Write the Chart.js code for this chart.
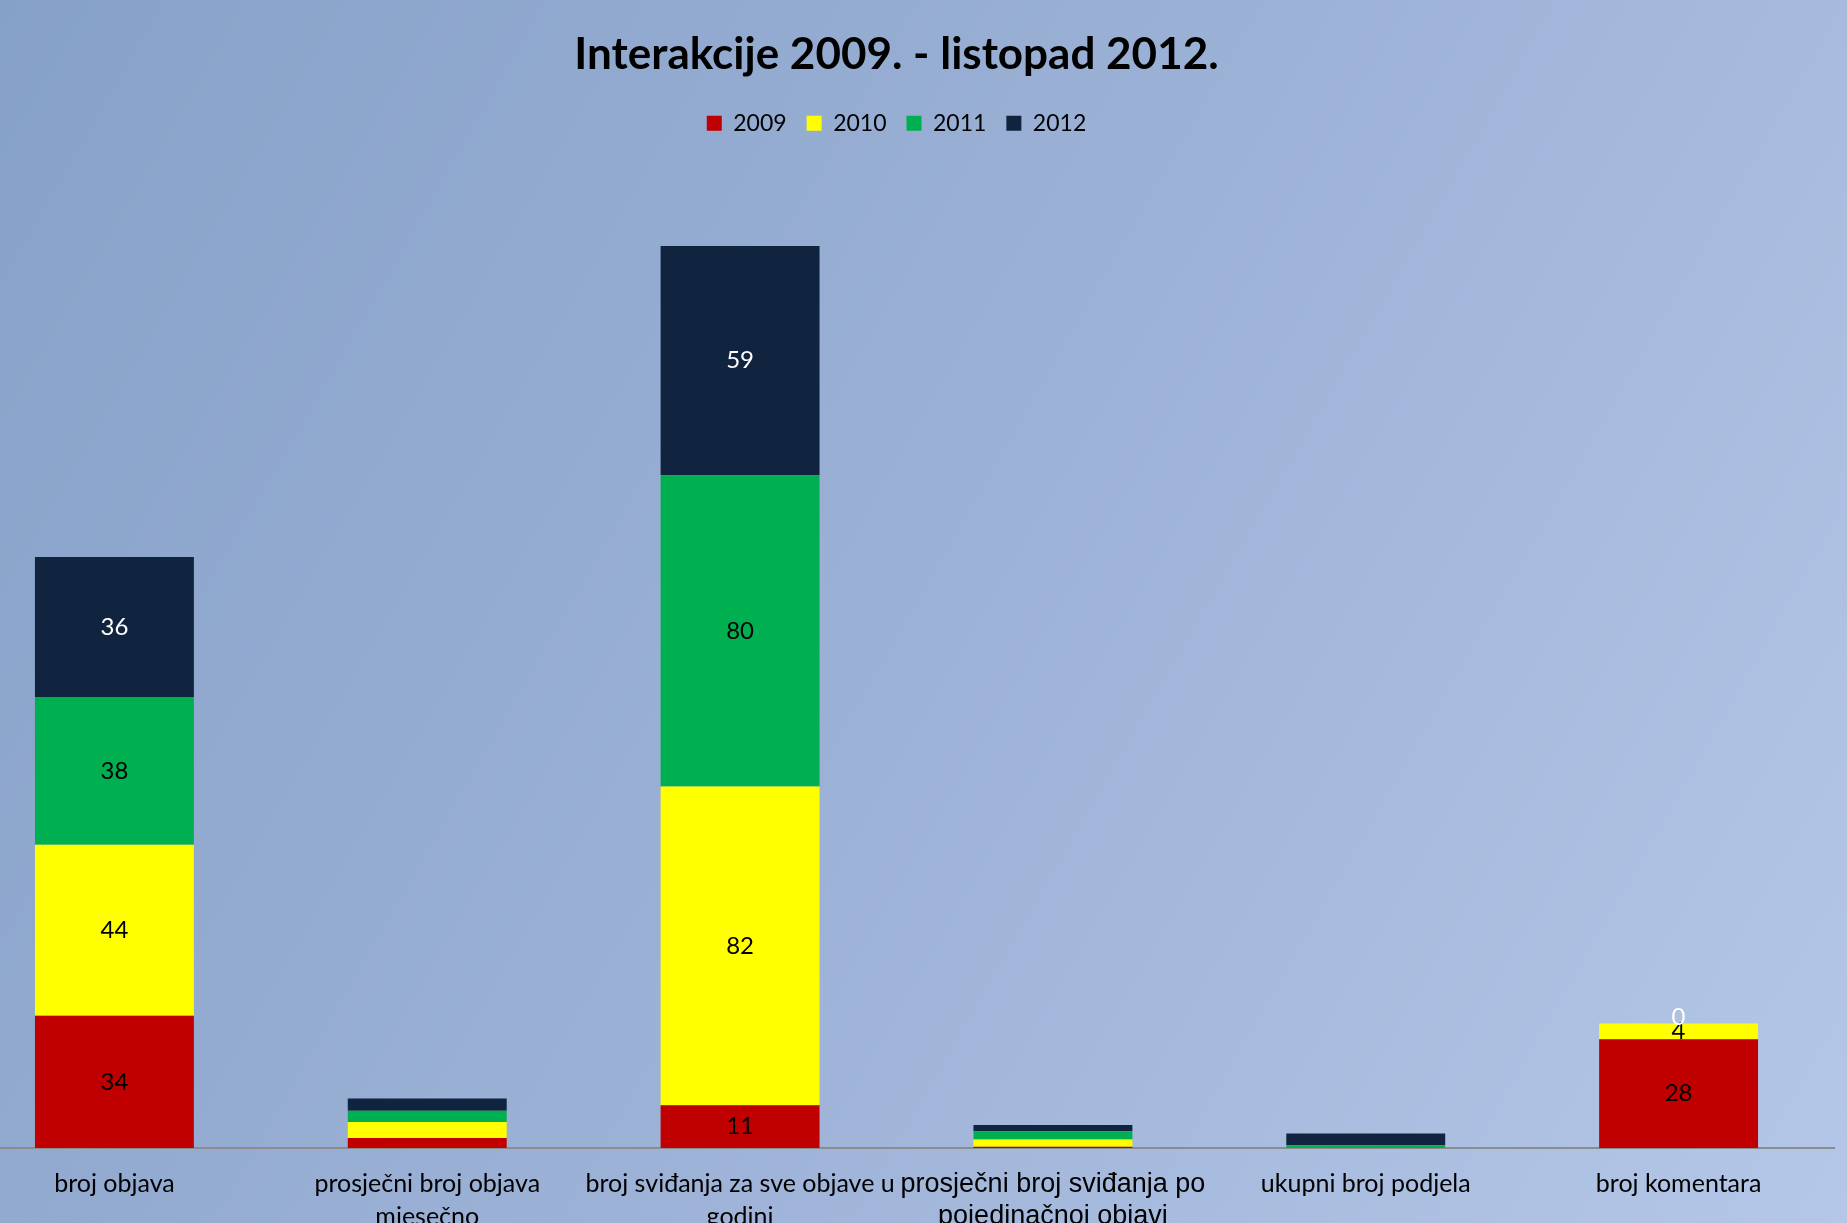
<!DOCTYPE html>
<html lang="hr">
<head>
  <meta charset="UTF-8">
  <title>Interakcije 2009. - listopad 2012.</title>
  <script src="https://cdn.jsdelivr.net/npm/chart.js@4"></script>
  <style>
    html, body {
      margin: 0;
      width: 1847px;
      height: 1223px;
      overflow: hidden;
      background: linear-gradient(120deg, #86a1c8 0%, #9cb1d6 50%, #b4c7e8 100%);
    }
    #wrap {
      position: absolute;
      left: -42px;
      top: 0;
      width: 1877px;
      height: 1253px;
    }
  </style>
</head>
<body>
  <div id="wrap"><canvas id="grafikon"></canvas></div>
  <script>
    // kategorije i vrijednosti po godinama
    const kategorije = [
      "broj objava",
      ["prosječni broj objava", "mjesečno"],
      ["broj sviđanja za sve objave u", "godini"],
      ["prosječni broj sviđanja po", "pojedinačnoj objavi"],
      "ukupni broj podjela",
      "broj komentara"
    ];
    const god2009 = [34, 2.6, 11, 0.3, 0, 28];
    const god2010 = [44, 4.1, 82, 1.9, 0, 4];
    const god2011 = [38, 2.9, 80, 2.1, 0.7, 0];
    const god2012 = [36, 3.1, 59, 1.6, 3.0, 0];
    // koji stupci imaju oznake vrijednosti
    const oznake2009 = [true, false, true, false, false, true];
    const oznake2010 = [true, false, true, false, false, true];
    const oznake2011 = [true, false, true, false, false, false];
    const oznake2012 = [true, false, true, false, false, true];

    const font = "Lato, 'Open Sans', sans-serif";

    // jednostavne oznake u sredini segmenta
    const oznakePlugin = {
      id: "oznake",
      afterDatasetsDraw(chart) {
        const ctx = chart.ctx;
        ctx.save();
        ctx.textAlign = "center";
        ctx.textBaseline = "middle";
        ctx.font = "24px " + font;
        chart.data.datasets.forEach((ds, i) => {
          const meta = chart.getDatasetMeta(i);
          meta.data.forEach((bar, j) => {
            if (!ds.oznake[j]) return;
            let y = (bar.y + bar.base) / 2;
            if (ds.data[j] === 0) y = bar.y - 6;
            ctx.fillStyle = ds.bojaOznake;
            ctx.fillText(String(ds.data[j]), bar.x, y);
          });
        });
        ctx.restore();
      }
    };

    new Chart(document.getElementById("grafikon"), {
      type: "bar",
      data: {
        labels: kategorije,
        datasets: [
          { label: "2009", data: god2009, backgroundColor: "#c00000", oznake: oznake2009, bojaOznake: "#000" },
          { label: "2010", data: god2010, backgroundColor: "#ffff00", oznake: oznake2010, bojaOznake: "#000" },
          { label: "2011", data: god2011, backgroundColor: "#00b050", oznake: oznake2011, bojaOznake: "#000" },
          { label: "2012", data: god2012, backgroundColor: "#10243f", oznake: oznake2012, bojaOznake: "#fff" }
        ]
      },
      options: {
        responsive: true,
        maintainAspectRatio: false,
        animation: false,
        datasets: {
          bar: { categoryPercentage: 1, barPercentage: 0.508 }
        },
        layout: { padding: { top: 11, left: 0, right: 0, bottom: 0 } },
        plugins: {
          title: {
            display: true,
            text: "Interakcije 2009. - listopad 2012.",
            color: "#000",
            font: { family: font, size: 44, weight: "bold" },
            padding: { top: 17, bottom: 11 }
          },
          legend: {
            position: "top",
            labels: {
              color: "#000",
              font: { family: font, size: 23 },
              boxWidth: 15,
              boxHeight: 15,
              padding: 20
            }
          },
          tooltip: { enabled: false }
        },
        scales: {
          x: {
            stacked: true,
            grid: { display: false, drawTicks: false },
            border: { display: true, color: "#8c8c8c", width: 2 },
            ticks: {
              color: "#000",
              maxRotation: 0,
              autoSkip: false,
              padding: 20,
              font: (c) => c.index === 3
                ? { family: "'Liberation Sans', Arial, sans-serif", size: 27, lineHeight: 1.2 }
                : { family: font, size: 25, lineHeight: 1.3 }
            }
          },
          y: {
            stacked: true,
            display: false,
            min: 0,
            max: 258
          }
        }
      },
      plugins: [oznakePlugin]
    });
  </script>
</body>
</html>
